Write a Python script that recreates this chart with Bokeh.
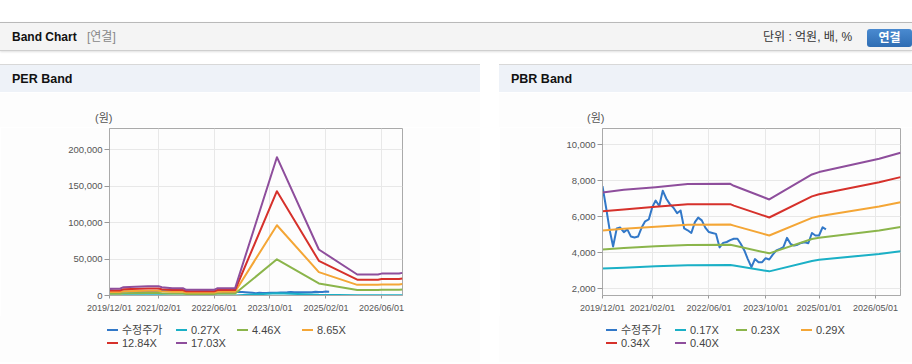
import pandas as pd
from bokeh.plotting import figure
from bokeh.models import (Div, FixedTicker, DatetimeTickFormatter, NumeralTickFormatter,
                          Range1d)
from bokeh.layouts import column, row
from bokeh.embed import file_html
from bokeh.resources import INLINE

# ---------------- data ----------------
price_dates = pd.date_range("2019-12-01", periods=64, freq="MS")
price = [7700, 6500, 5250, 4350, 5350, 5400, 5150, 5300, 4900, 4850, 4900, 5400,
         5750, 5850, 6550, 6900, 6600, 7450, 7000, 6700, 6500, 6200, 6350, 5350,
         5250, 5100, 5700, 5950, 5800, 5400, 5150, 5100, 5050, 4300, 4550, 4600,
         4700, 4780, 4780, 4500, 4130, 3650, 3200, 3650, 3480, 3480, 3700, 3630,
         3900, 4130, 4220, 4310, 4830, 4500, 4400, 4450, 4550, 4590, 4530, 5100,
         4960, 4960, 5420, 5300]

per_dates = ["2019-12-01", "2020-03-01", "2020-04-01", "2020-11-01", "2021-02-01",
             "2021-03-01", "2021-06-01", "2021-09-01", "2021-10-01", "2022-06-01",
             "2022-07-01", "2022-12-01", "2023-12-01", "2024-12-01", "2025-11-01",
             "2026-05-01", "2026-06-01", "2026-11-01", "2026-12-01"]
per_labels = ["0.27X", "4.46X", "8.65X", "12.84X", "17.03X"]
per_027 = [150, 150, 180, 200, 200, 180, 160, 160, 120, 120, 160, 160, 3000, 1000,
           460, 460, 480, 480, 490]
per_446 = [2410, 2410, 2990, 3350, 3350, 2990, 2620, 2620, 2040, 2040, 2620, 2620,
           49600, 16500, 7540, 7540, 7860, 7860, 8120]
per_865 = [4670, 4670, 5790, 6500, 6500, 5790, 5080, 5080, 3960, 3960, 5080, 5080,
           96300, 32000, 14600, 14600, 15200, 15200, 15700]
per_1284 = [6940, 6940, 8600, 9650, 9650, 8600, 7540, 7540, 5880, 5880, 7540, 7540,
            142900, 47500, 21700, 21700, 22600, 22600, 23400]
per_1703 = [9200, 9200, 11400, 12800, 12800, 11400, 10000, 10000, 7800, 7800, 10000,
            10000, 189500, 63000, 28800, 28800, 30000, 30000, 31000]
per_yticks = [0, 50000, 100000, 150000, 200000]
per_xticks = ["2019-12-01", "2021-02-01", "2022-06-01", "2023-10-01", "2025-02-01", "2026-06-01"]

pbr_dates = ["2019-12-01", "2020-06-01", "2021-03-01", "2021-12-01", "2022-12-01",
             "2023-01-01", "2023-11-01", "2024-11-01", "2025-01-01", "2026-06-01",
             "2026-12-01"]
pbr_labels = ["0.17X", "0.23X", "0.29X", "0.34X", "0.40X"]
pbr_017 = [3130, 3170, 3260, 3310, 3320, 3290, 2970, 3540, 3610, 3940, 4090]
pbr_023 = [4190, 4260, 4360, 4440, 4450, 4410, 3970, 4770, 4830, 5240, 5430]
pbr_029 = [5240, 5330, 5450, 5560, 5570, 5510, 4960, 5940, 6030, 6570, 6810]
pbr_034 = [6300, 6400, 6560, 6690, 6700, 6620, 5960, 7130, 7250, 7920, 8200]
pbr_040 = [7350, 7500, 7640, 7820, 7830, 7720, 6960, 8350, 8480, 9220, 9550]
pbr_yticks = [2000, 4000, 6000, 8000, 10000]
pbr_xticks = ["2019-12-01", "2021-02-01", "2022-06-01", "2023-10-01", "2025-01-01", "2026-05-01"]

price_label = "수정주가"
unit_label = "(원)"
colors = ["#3278c8", "#1bb0c6", "#8bb54b", "#f4a636", "#d6312b", "#8e4e9c"]

FONT = "Liberation Sans, Noto Sans CJK KR"
FF = "font-family:'Liberation Sans','Noto Sans CJK KR',sans-serif;"
BG = "#fdfdfd"
X_START = pd.Timestamp("2019-12-01")
X_END = pd.Timestamp("2026-12-01")


def ms(d):
    return pd.Timestamp(d).timestamp() * 1000.0


def make_chart(width, mb_left, mb_right, y0, y1, yticks, xticks, band_dates, bands):
    p = figure(width=width, height=189, x_axis_type="datetime",
               x_range=Range1d(X_START, X_END), y_range=Range1d(y0, y1),
               output_backend="svg", toolbar_location=None,
               min_border_left=mb_left, min_border_right=mb_right,
               min_border_top=1, min_border_bottom=21)
    p.title = None
    p.background_fill_color = BG
    p.border_fill_color = BG
    p.outline_line_color = "#aaaaaa"
    p.grid.grid_line_color = "#e8e8e8"

    p.xaxis.ticker = FixedTicker(ticks=[ms(d) for d in xticks])
    fmt = "%Y/%m/%d"
    p.xaxis.formatter = DatetimeTickFormatter(
        microseconds=fmt, milliseconds=fmt, seconds=fmt, minsec=fmt, minutes=fmt,
        hourmin=fmt, hours=fmt, days=fmt, months=fmt, years=fmt)
    p.yaxis.ticker = FixedTicker(ticks=yticks)
    p.yaxis.formatter = NumeralTickFormatter(format="0,0")

    for ax in (p.xaxis, p.yaxis):
        ax.axis_line_color = "#aaaaaa"
        ax.major_tick_line_color = "#999999"
        ax.minor_tick_line_color = None
        ax.major_tick_in = 0
        ax.major_label_text_color = "#555555"
        ax.major_label_text_font = FONT
    p.yaxis.major_tick_out = 5
    p.yaxis.major_label_standoff = 2
    p.yaxis.major_label_text_font_size = "9.5px"
    p.xaxis.major_tick_out = 3
    p.xaxis.major_label_standoff = 4
    p.xaxis.major_label_text_font_size = "9px"

    p.line(price_dates, price, line_color=colors[0], line_width=2, line_join="round")
    bd = pd.to_datetime(band_dates)
    for vals, col in zip(bands, colors[1:]):
        p.line(bd, vals, line_color=col, line_width=2, line_join="round")
    return p


def legend_div(width, labels):
    names = [price_label] + labels
    col_x = [107, 176, 237, 302]
    row_y = [14, 27]
    parts = [f'<div style="position:relative;width:{width}px;height:46px;'
             f'background:{BG};{FF}">']
    for i, (name, col) in enumerate(zip(names, colors)):
        x = col_x[i % 4]
        y = row_y[i // 4]
        parts.append(
            f'<div style="position:absolute;left:{x}px;top:{y - 1}px;width:11px;'
            f'height:2px;background:{col};"></div>'
            f'<div style="position:absolute;left:{x + 15}px;top:{y - 7}px;'
            'line-height:14px;font-size:11px;color:#444;white-space:nowrap;">'
            f'{name}</div>')
    parts.append('</div>')
    return Div(text="".join(parts), width=width, height=46, margin=0)


def title_div(text, width):
    html = (
        f'<div style="position:relative;width:{width}px;height:29px;{FF}">'
        f'<div style="position:absolute;left:0;top:0;width:{width}px;'
        'height:28px;background:#eef2f8;border-top:1px solid #d8d8d8;"></div>'
        '<div style="position:absolute;left:12px;top:8px;line-height:15px;'
        f'font-size:12.5px;font-weight:bold;color:#111;white-space:nowrap;">{text}</div>'
        '</div>'
    )
    return Div(text=html, width=width, height=29, margin=0)


def unit_div(width, left):
    html = (
        f'<div style="position:relative;width:{width}px;height:34px;background:{BG};{FF}">'
        f'<div style="position:absolute;left:{left}px;top:18px;line-height:14px;'
        f'font-size:11px;color:#555;white-space:nowrap;">{unit_label}</div></div>'
    )
    return Div(text=html, width=width, height=34, margin=0)


def bottom_line(width):
    html = f'<div style="width:{width}px;height:1px;background:#d2d2d2;"></div>'
    return Div(text=html, width=width, height=1, margin=0)


p1 = make_chart(480, 109, 78, 0, 228800, per_yticks, per_xticks, per_dates,
                [per_027, per_446, per_865, per_1284, per_1703])
p2 = make_chart(413, 103, 12, 1630, 10900, pbr_yticks, pbr_xticks, pbr_dates,
                [pbr_017, pbr_023, pbr_029, pbr_034, pbr_040])

header_html = (
    f'<div style="position:relative;width:912px;height:64px;{FF}">'
    '<div style="position:absolute;left:0;top:22px;width:912px;height:29px;'
    'background:#f4f4f4;border-top:1px solid #b9b9b9;border-bottom:1px solid #cfcfcf;'
    'box-shadow:0 1px 2px rgba(0,0,0,0.12);"></div>'
    '<div style="position:absolute;left:12px;top:30px;line-height:15px;font-size:12px;'
    'font-weight:bold;color:#111;white-space:nowrap;">Band Chart</div>'
    '<div style="position:absolute;left:87px;top:30px;line-height:15px;font-size:12px;'
    'color:#888;white-space:nowrap;">[연결]</div>'
    '<div style="position:absolute;left:763px;top:30px;line-height:15px;font-size:12px;'
    'color:#333;white-space:nowrap;">단위 : 억원, 배, %</div>'
    '<div style="position:absolute;left:867px;top:29px;width:45px;height:18px;'
    'border-radius:3px;background:linear-gradient(#4a8ad0,#2f6db3);color:#fff;'
    'font-size:12px;font-weight:bold;line-height:18px;text-align:center;">연결</div>'
    '</div>'
)
header = Div(text=header_html, width=912, height=64, margin=0)

left_col = column(title_div("PER Band", 480), unit_div(480, 95), p1,
                  legend_div(480, per_labels), bottom_line(480))
gap = Div(text="", width=19, height=299, margin=0)
right_col = column(title_div("PBR Band", 413), unit_div(413, 88), p2,
                   legend_div(413, pbr_labels), bottom_line(413))

layout = column(header, row(left_col, gap, right_col))

open("out.html", "w").write(file_html(layout, INLINE))
